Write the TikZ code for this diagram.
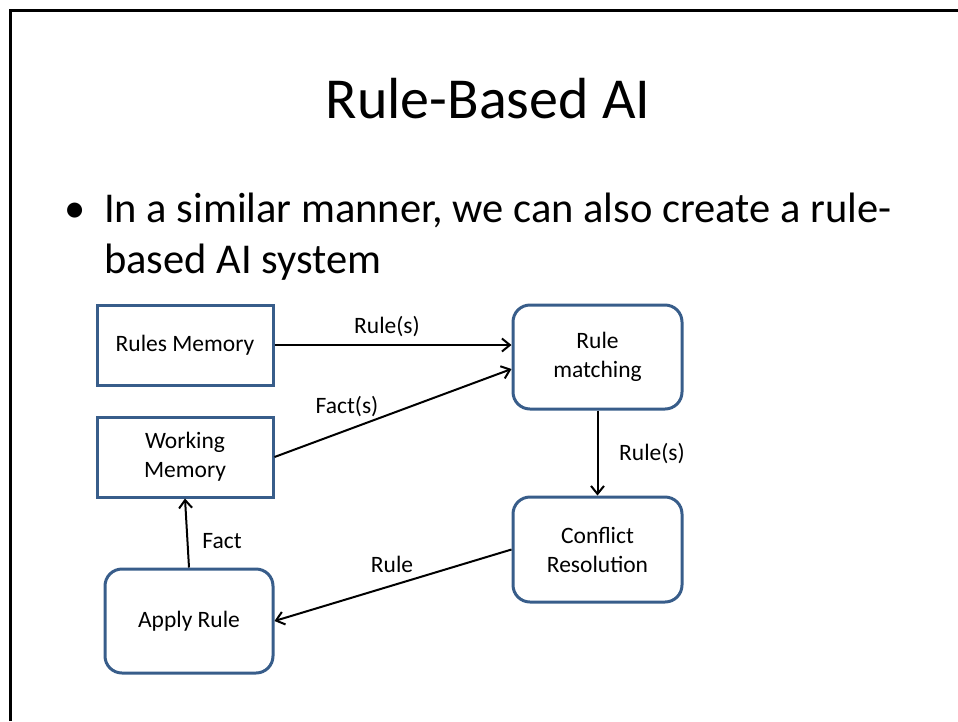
\documentclass[tikz,border=0pt]{standalone}
\usepackage{fontspec}
\setmainfont{Carlito}
\usetikzlibrary{arrows.meta,calc}
\definecolor{boxblue}{HTML}{385D8A}
\tikzset{
  sqbox/.style={draw=boxblue,line width=3pt,inner sep=0pt,align=center,font=\fontsize{23.5}{29}\selectfont},
  rdbox/.style={sqbox,rounded corners=17pt},
  conn/.style={line width=2pt,-{Straight Barb[length=8pt,width=13pt,line width=2pt]}},
  lbl/.style={anchor=base,inner sep=0pt,font=\fontsize{23.5}{29}\selectfont},
  frameline/.style={line width=3pt,black}
}
\begin{document}
\begin{tikzpicture}[x=1pt,y=-1pt]
\useasboundingbox (0,0) rectangle (958,721);
\coordinate (fA) at (10,721);
\coordinate (fB) at (10,10);
\coordinate (fC) at (958,10);
\draw[frameline] (fA) -- (fB) -- (fC);
% title
\node[anchor=base,inner sep=0pt,font=\fontsize{58}{70}\selectfont] (title) at (488,118) {Rule-Based AI};
% bullet
\node[anchor=base,inner sep=0pt,font=\fontsize{42.5}{50}\selectfont] (bul) at (75,222) {•};
\node[anchor=base west,inner sep=0pt,font=\fontsize{42.5}{50}\selectfont] (line1) at (104,222) {In a similar manner, we can also create a rule-};
\node[anchor=base west,inner sep=0pt,font=\fontsize{42.5}{50}\selectfont] (line2) at (104,273) {based AI system};
% boxes
\node[sqbox,minimum width=176pt,minimum height=80pt] (rm) at (185,345) {Rules Memory};
\node[sqbox,minimum width=176pt,minimum height=80pt] (wm) at (185,457) {Working\\Memory};
\node[rdbox,minimum width=169pt,minimum height=104pt] (rmat) at (597.5,357) {Rule\\matching};
\node[rdbox,minimum width=169pt,minimum height=105pt] (cr) at (597.5,549.5) {Conflict\\Resolution};
\node[rdbox,minimum width=168pt,minimum height=104pt] (ar) at (189,621) {Apply Rule};
% connectors
\draw[conn] (rm.east) -- (rm.east -| rmat.west);
\draw[conn] (wm.east) -- ($(rmat.west)+(0,12)$);
\draw[conn] (rmat.south) -- (cr.north);
\draw[conn] (cr.west) -- (ar.east);
\draw[conn] (ar.north) -- (wm.south);
% labels
\node[lbl] (l1) at (387,333) {Rule(s)};
\node[lbl] (l2) at (347,413) {Fact(s)};
\node[lbl] (l3) at (652,460) {Rule(s)};
\node[lbl] (l4) at (392,572) {Rule};
\node[lbl] (l5) at (222,548) {Fact};
\end{tikzpicture}
\end{document}
